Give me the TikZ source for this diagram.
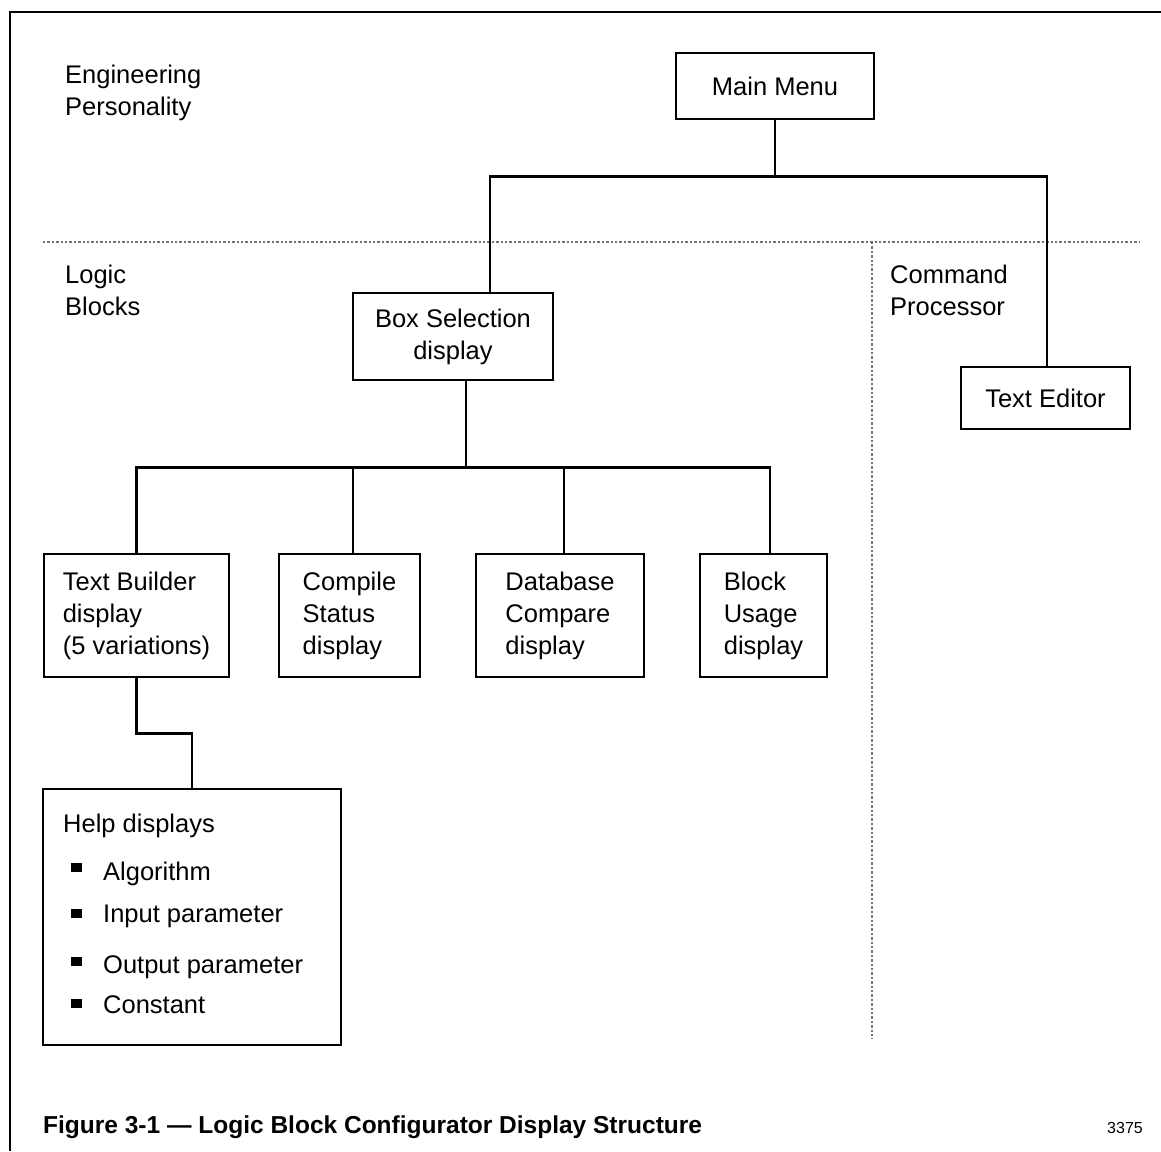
\documentclass[tikz,border=0pt]{standalone}
\usepackage{fontspec}
\setmainfont{Liberation Sans}
\usetikzlibrary{positioning}

\begin{document}
\begin{tikzpicture}[x=1pt, y=-1pt,
  every node/.style={font=\fontsize{25.5}{32}\selectfont, inner sep=0pt},
  box/.style={draw, line width=2.7pt, align=left, minimum height=123pt},
  wire/.style={line width=2.7pt},
  divider/.style={draw=black!55, line width=2.4pt, dash pattern=on 2.4pt off 2pt},
  area/.style={anchor=north west, align=left}]
  \useasboundingbox (0,0) rectangle (1161,1151);
  % frame and area dividers
  \draw[wire] (10,1151) -- (10,12) -- (1161,12);
  \draw[divider] (43,242) -- (1140,242);
  \draw[divider] (872,242) -- (872,1039);
  \node[area] (eng) at (65,65) {Engineering\\Personality};
  \node[area] (logic) at (65,265) {Logic\\Blocks};
  \node[area] (cmd) at (890,265) {Command\\Processor};
  % displays
  \node[box, minimum width=198pt, minimum height=66pt, align=center] (menu) at (775,86) {Main Menu};
  \node[box, minimum width=200pt, minimum height=87pt, align=center] (boxsel) at (453,336.5)
    {Box Selection\\display};
  \node[box, minimum width=169pt, minimum height=62pt] (editor) at (1045.5,398) {Text Editor};
  \node[box, minimum width=185pt] (builder) at (136.5,615.5)
    {Text Builder\\display\\(5 variations)};
  \node[box, minimum width=141pt, right=47.3pt of builder] (compile) {Compile\\Status\\display};
  \node[box, minimum width=168pt, right=53.3pt of compile] (compare) {Database\\Compare\\display};
  \node[box, minimum width=127pt, right=53.3pt of compare] (usage) {Block\\Usage\\display};
  \node[box, minimum width=298pt, minimum height=256pt] (help) at (192,917) {};
  \node[anchor=base west] (helptitle) at (63,832) {Help displays};
  \foreach \yt/\yb/\item in {863/880/Algorithm, 909/922/Input parameter,
                            957/973/Output parameter, 999/1013/Constant} {
    \fill (71,\yt) rectangle ++(11,9);
    \node[anchor=base west] (item\yb) at (103,\yb) {\item};
  }
  % connectors
  \draw[wire] (menu.south) -- ++(0,56) coordinate (hub);
  \draw[wire] (hub) -| ([xshift=37pt]boxsel.north);
  \draw[wire] (hub) -| ([xshift=1.5pt]editor.north);
  \draw[wire] ([xshift=13pt]boxsel.south) -- ++(0,86) coordinate (fork);
  \foreach \n/\dx in {builder/0, compile/3.5, compare/4, usage/6.5}
    \draw[wire] (fork) -| ([xshift=\dx pt]\n.north);
  \draw[wire] (builder.south) -- ++(0,55) -| (help.north);
  % caption
  \node[anchor=base west, font=\bfseries\fontsize{24.5}{30}\selectfont] (caption) at (43,1133)
    {Figure 3-1 — Logic Block Configurator Display Structure};
  \node[anchor=base west, font=\fontsize{16}{19}\selectfont] (fignum) at (1107,1133) {3375};
\end{tikzpicture}
\end{document}
